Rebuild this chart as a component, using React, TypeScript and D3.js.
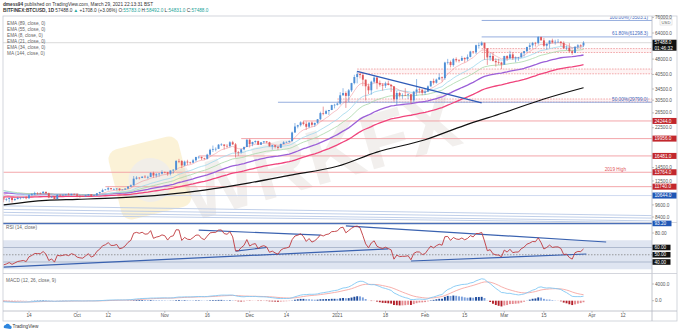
import React from "react";
import * as d3 from "d3";

const W = 680;
const H = 334;
const FONT = "'Liberation Sans', Arial, sans-serif";

// ---------- data (daily BTCUSD, Bitfinex) ----------
const START = "2020-09-05";
const FIRST_OPEN = 10470;
const closes = [
  10170,10250,10370,10130,10240,10360,10400,10440,10330,10680,10790,10950,10940,10930,11090,10920,10420,10530,10240,10740,10690,10730,10775,10710,10840,10780,
  10620,10570,10550,10670,10790,10600,10670,10920,11060,11300,11380,11550,11430,11430,11500,11320,11370,11500,11750,11920,12820,12970,12930,13110,13030,13070,13650,13280,13460,13560,13800,
  13760,13550,14030,14150,15590,15580,14840,15480,15330,15300,15700,16280,16320,16070,15970,16720,17650,17800,17820,18660,18700,18420,18370,19160,18730,17150,17140,17720,18180,19700,
  18760,19220,19420,18650,19150,19360,19170,18320,18550,18250,18030,18800,19140,19250,19440,21350,22800,23130,23860,23480,22740,23820,23240,23730,24710,26440,26250,27030,27360,28890,28980,
  29380,32190,32990,31970,33990,36820,39370,40670,40250,38240,35540,34010,37390,39150,36830,36180,35790,36630,36070,35540,30820,33000,32080,32260,32250,32510,30430,33470,34320,34270,33110,
  33520,35510,37670,36960,38310,39250,38900,46200,46480,44920,47960,47350,47180,48580,47910,49160,52150,51680,55920,55920,57490,54090,48890,49680,47060,46340,46190,45140,
  49630,48380,50540,48440,48880,48880,51210,52380,54880,55850,57330,57220,61190,59000,55600,56900,58910,57670,58090,58100,57350,54080,54340,52300,51290,55030,55840,55780,57488,
];
const highs = [
  10580,10350,10400,10440,10350,10500,10420,10480,10580,10800,10940,11100,11040,11030,11180,11100,10990,10570,10550,10780,10760,10780,10800,10950,10860,10870,
  10920,10610,10600,10690,10800,10800,10690,10940,11100,11480,11430,11720,11560,11560,11550,11540,11400,11520,11820,12030,13200,13180,13020,13160,13340,13240,13790,13850,13640,13660,14080,
  13890,13820,14070,14250,15760,15960,15750,15650,15800,15460,15950,16340,16480,16330,16150,16880,17850,18480,18120,18800,18960,18700,18770,19400,19470,19000,17420,17850,18300,19860,
  19920,19300,19560,19520,19180,19420,19400,19280,18640,18580,18250,18920,19400,19330,19570,21560,23700,23270,24150,24280,24100,23840,24100,23790,24760,26860,28400,27400,27370,28990,29300,
  29600,33300,34800,33600,34500,36940,40360,41950,41350,41400,38300,36600,37800,40100,39700,37900,36800,37400,37850,36400,35600,33800,33500,32900,34800,32900,32560,33800,38500,34900,34300,
  34700,35900,37800,38700,38700,40900,39600,46600,48100,47200,48600,48900,48000,49700,49000,50500,52600,52500,56300,57500,58350,57500,54200,51300,51900,48400,48200,46600,
  49800,50100,52600,51800,49400,49200,51400,52400,54900,57300,58000,58000,61780,61600,60600,56900,58900,60100,59400,59900,58600,58400,55800,57200,53200,55100,56600,56500,58492,
];
const lows = [
  9880,10000,9880,9850,10020,10200,10200,10300,10210,10270,10640,10680,10760,10820,10890,10810,10330,10370,10150,10200,10580,10650,10630,10660,10650,10700,
  10450,10390,10510,10520,10630,10540,10580,10620,10830,11050,11280,11250,11300,11300,11280,11220,11300,11350,11420,11690,11900,12690,12730,12900,12900,12790,13060,12950,12990,13130,13430,
  13600,13240,13300,13560,14100,15220,14400,14700,14900,15100,15250,15450,15960,15750,15800,15870,16560,17200,17340,17780,18400,17700,18030,18050,18600,16200,16500,16900,17540,18180,
  18100,18340,18930,18580,18600,18870,18930,18280,17650,17920,17600,18020,18750,18980,19060,19270,21240,22350,22780,23100,22000,22360,22720,22700,23450,24500,25800,26100,25900,27320,27850,
  28750,29000,32000,28000,29900,33400,36300,36700,38800,35600,30400,32600,32400,36700,34400,35400,33900,34900,35900,33400,30070,28850,31400,31000,31950,30900,29300,30000,31950,32900,32200,
  32300,33400,35400,36200,36600,38100,37400,38100,45200,43800,44100,46300,46200,47000,46200,47000,48900,50900,50700,53900,55500,47600,45000,47100,46700,44200,45100,43000,
  45100,47100,48100,47500,46300,47100,48900,49300,51900,53100,54300,55100,56300,59000,54600,53300,54200,57100,56300,57800,55500,53700,53100,51700,50300,51300,53900,54600,54831,
];

// moving averages
const emaPeriods = [8, 21, 34, 55, 89];
const emaSeeds = [11000, 11350, 11300, 11000, 10500];
const ma144Dates = ["2020-09-05","2020-09-20","2020-10-01","2020-10-15","2020-11-01","2020-11-15","2020-12-01","2020-12-15","2021-01-01","2021-01-15","2021-02-01","2021-02-15","2021-03-01","2021-03-15","2021-03-29"];
const ma144Values = [9600,10100,10210,10370,10750,11310,12250,13300,14700,17200,19700,23100,26600,30900,35000];

// oscillators (seeds at chart start)
const rsiSeed = [120, 190];
const macdSeed = [11200, 11380, -20];

// axes
const priceTicks = [76000, 64000, 48000, 40500, 34500, 30500, 26500, 22500, 14500, 12500, 9600, 8400];
const timeTickDates = ["2020-09-14","2020-10-01","2020-10-12","2020-11-01","2020-11-16","2020-12-01","2020-12-14","2021-01-01","2021-01-18","2021-02-01","2021-02-15","2021-03-01","2021-03-15","2021-04-01","2021-04-12"];
const timeTickLabels = ["14","Oct","12","Nov","16","Dec","14","2021","18","Feb","15","Mar","15","Apr","12"];
const rsiTicks = [80];
const rsiBoxTicks = [60, 50, 40];
const macdTicks = [4000, 0];

// drawings
const levelValues = [24244, 19956, 16481, 13764, 11740];
const levelStarts = ["2020-12-20", "2020-11-28", "2020-11-13", "2020-09-05", "2020-10-11"];
const supportValue = 10644;
const zoneLows = [51600, 40800, 29880];
const zoneHighs = [53900, 43000, 30890];
const zoneStarts = ["2021-02-21", "2021-01-08", "2021-01-01"];
const fibValues = [73503.1, 61298.3, 29799.0];
const fibLabels = ["100.00%(73503.1)", "61.80%(61298.3)", "50.00%(29799.0)"];
const fibStarts = ["2021-02-21", "2021-02-21", "2020-12-11"];
const trendDates = ["2021-01-08", "2021-02-21"];
const trendValues = [41950, 29560];
const channelDates = ["2020-09-05", "2021-04-22"];
const channelStartValues = [9500, 9130, 8840, 8580];
const channelEndValues = [8530, 8300, 8050, 7900];
const rsiLineStarts = [["2020-09-05", 33], ["2020-11-26", 55], ["2020-11-13", 84], ["2021-01-04", 89.7], ["2021-01-27", 41.4]];
const rsiLineEnds = [["2021-01-19", 58], ["2020-12-07", 60], ["2020-12-26", 77], ["2021-04-06", 67.6], ["2021-03-30", 51]];
const rsiTopLevel = 93.2;

const LEGEND = ["EMA (89, close, 0)", "EMA (55, close, 0)", "EMA (8, close, 0)", "EMA (21, close, 0)", "EMA (34, close, 0)", "MA (144, close, 0)"];

export default function App() {
  const parse = d3.utcParse("%Y-%m-%d");
  const P = (s: string) => parse(s) as Date;
  const t0 = P(START);
  const dates = closes.map((_, i) => d3.utcDay.offset(t0, i));
  const opens = closes.map((_, i) => (i === 0 ? FIRST_OPEN : closes[i - 1]));

  const L = 3, R = 652, RE = 677;
  const mainTop = 16, mainBot = 222.5, rsiBot = 273.5, macdBot = 311;

  const x = d3.scaleUtc().domain([P("2020-09-14"), P("2021-04-01")]).range([29, 592]);
  const y = d3.scaleLog().domain([8400, 64000]).range([217, 33]);
  const yR = d3.scaleLinear().domain([40, 80]).range([262, 233]);
  const yM = d3.scaleLinear().domain([0, 4000]).range([300.7, 284]);

  const emas = emaPeriods.map((p, k) => {
    const a = 2 / (p + 1);
    let e = emaSeeds[k];
    return closes.map((c) => (e = e + a * (c - e)));
  });
  let ag = rsiSeed[0], al = rsiSeed[1];
  const rsi = closes.map((c, i) => {
    const ch = c - opens[i];
    ag = (ag * 13 + Math.max(ch, 0)) / 14;
    al = (al * 13 + Math.max(-ch, 0)) / 14;
    return 100 - 100 / (1 + ag / al);
  });
  let e12 = macdSeed[0], e26 = macdSeed[1], sig = macdSeed[2];
  const macd: number[] = [], signal: number[] = [], hist: number[] = [];
  closes.forEach((c) => {
    e12 += (2 / 13) * (c - e12);
    e26 += (2 / 27) * (c - e26);
    const m = e12 - e26;
    sig += (2 / 10) * (m - sig);
    macd.push(m); signal.push(sig); hist.push(m - sig);
  });

  const lineP = d3.line<number>().x((_, i) => x(dates[i])).y((v) => y(v));
  const maLine = d3.line<number>().x((_, i) => x(P(ma144Dates[i]))).y((v) => y(v)).curve(d3.curveMonotoneX);
  const rsiLine = d3.line<number>().x((_, i) => x(dates[i])).y((v) => yR(v));
  const macdLine = d3.line<number>().x((_, i) => x(dates[i])).y((v) => yM(v));

  const emaColors = ["rgba(236,120,130,0.55)", "#9fd8ec", "#a8d8a8", "#9b5fd8", "#f0447c"];
  const emaWidths = [0.8, 0.8, 0.8, 1.3, 1.3];
  const upC = "#4f8fd6", dnC = "#e0575b";
  const bw = 1.9;
  const fs = 4.7;
  const red = "#f29ca0";
  const redBox = "#c2272d";

  const histColor = (i: number) => {
    const h = hist[i], p = i > 0 ? hist[i - 1] : 0;
    if (h >= 0) return h >= p ? "#1c4a9c" : "#7a9fdc";
    return h < p ? "#b3202a" : "#e58b90";
  };

  return (
    <svg width={W} height={H} style={{ display: "block", position: "absolute", left: 0, top: 0 }} fontFamily={FONT}>
      <defs>
        <clipPath id="cMain"><rect x={L} y={mainTop} width={R - L} height={mainBot - mainTop} /></clipPath>
        <clipPath id="cRsi"><rect x={L} y={mainBot} width={R - L} height={rsiBot - mainBot} /></clipPath>
        <clipPath id="cMacd"><rect x={L} y={rsiBot} width={R - L} height={macdBot - rsiBot} /></clipPath>
      </defs>
      <rect x={0} y={0} width={W} height={H} fill="#fff" />

      {/* header */}
      <text x={3} y={6} fontSize={fs} fill="#333">
        <tspan fontWeight="bold">dmess94</tspan> published on TradingView.com, March 29, 2021 22:13:31 BST
      </text>
      <text x={3} y={12.3} fontSize={fs} fill="#333">
        <tspan fontWeight="bold">BITFINEX:BTCUSD, 1D</tspan> 57488.0 <tspan fill="#26a69a">▲</tspan> +1708.0 (+3.06%) O:<tspan fill="#26a69a">55783.0</tspan> H:<tspan fill="#26a69a">58492.0</tspan> L:<tspan fill="#26a69a">54831.0</tspan> C:<tspan fill="#26a69a">57488.0</tspan>
      </text>

      {/* ===== main pane ===== */}
      <g clipPath="url(#cMain)">
        {/* watermark */}
        <g transform="translate(150,178) rotate(-14)" opacity={0.5}>
          <rect x={-36} y={-36} width={72} height={72} rx={10} fill="#f8e6b0" />
          <circle cx={0} cy={2} r={22} fill="#e3ddd2" />
        </g>
        <text x={0} y={0} transform="translate(190,222) rotate(-16)" fontSize={78} fontWeight="bold" fill="#d9d2cc" opacity={0.35}>WRKFX</text>

        {/* channel lines */}
        {channelStartValues.map((v, k) => (
          <line key={"ch" + k} x1={x(P(channelDates[0]))} y1={y(v)} x2={x(P(channelDates[1]))} y2={y(channelEndValues[k])} stroke="#b9c9e6" strokeWidth={0.9} />
        ))}
        <line x1={L} x2={R} y1={y(supportValue)} y2={y(supportValue)} stroke="#c4d2ec" strokeWidth={0.8} />

        {/* levels */}
        {levelValues.map((v, k) => (
          <line key={"lv" + k} x1={x(P(levelStarts[k]))} x2={R} y1={y(v)} y2={y(v)} stroke={red} strokeWidth={0.9} />
        ))}
        <text x={626} y={y(13764) - 1.5} fontSize={fs} fill="#e0575b" textAnchor="end">2019 High</text>

        {/* zones */}
        {zoneLows.map((v, k) => (
          <g key={"z" + k}>
            <rect x={x(P(zoneStarts[k]))} y={y(zoneHighs[k])} width={R - x(P(zoneStarts[k]))} height={y(v) - y(zoneHighs[k])} fill="rgba(242,80,90,0.07)" />
            <line x1={x(P(zoneStarts[k]))} x2={R} y1={y(zoneHighs[k])} y2={y(zoneHighs[k])} stroke="#f0a0a4" strokeWidth={0.9} strokeDasharray="1.6,1.2" />
            <line x1={x(P(zoneStarts[k]))} x2={R} y1={y(v)} y2={y(v)} stroke="#f0a0a4" strokeWidth={0.9} strokeDasharray="1.6,1.2" />
          </g>
        ))}

        {/* fib */}
        {fibValues.map((v, k) => (
          <g key={"f" + k}>
            <line x1={x(P(fibStarts[k]))} x2={R} y1={y(v)} y2={y(v)} stroke="#8aa5da" strokeWidth={0.9} />
            <text x={648} y={y(v) - 1.6} fontSize={fs} fill="#4169c0" textAnchor="end">{fibLabels[k]}</text>
          </g>
        ))}

        {/* current price line */}
        <line x1={L} x2={R} y1={y(57488)} y2={y(57488)} stroke="#c8c8c8" strokeWidth={0.7} />

        {/* MAs */}
        <path d={maLine(ma144Values) || ""} fill="none" stroke="#111" strokeWidth={1.2} />
        {[4, 3, 2, 1, 0].map((k) => (
          <path key={"e" + k} d={lineP(emas[k]) || ""} fill="none" stroke={emaColors[k]} strokeWidth={emaWidths[k]} />
        ))}

        {/* candles */}
        {closes.map((c, i) => {
          const o = opens[i];
          const hi = Math.max(highs[i], o, c), lo = Math.min(lows[i], o, c);
          const cx = x(dates[i]);
          const col = c >= o ? upC : dnC;
          const top = y(Math.max(o, c)), bot = y(Math.min(o, c));
          return (
            <g key={"c" + i}>
              <line x1={cx} x2={cx} y1={y(hi)} y2={y(lo)} stroke={col} strokeWidth={0.6} />
              <rect x={cx - bw / 2} y={top} width={bw} height={Math.max(bot - top, 0.6)} fill={col} />
            </g>
          );
        })}

        {/* trendline */}
        <line x1={x(P(trendDates[0]))} y1={y(trendValues[0])} x2={x(P(trendDates[1]))} y2={y(trendValues[1])} stroke="#2f5bb7" strokeWidth={1.3} />
      </g>

      {/* legend */}
      {LEGEND.map((t, k) => (
        <text key={"lg" + k} x={7} y={24.5 + k * 6} fontSize={fs} fill="#666">{t}</text>
      ))}

      {/* ===== RSI pane ===== */}
      <g clipPath="url(#cRsi)">
        <rect x={L} y={yR(70)} width={R - L} height={yR(30) - yR(70)} fill="#dfe5f1" />
        <line x1={L} x2={R} y1={yR(60)} y2={yR(60)} stroke="#9aa6bf" strokeWidth={0.7} />
        <line x1={L} x2={R} y1={yR(40)} y2={yR(40)} stroke="#9aa6bf" strokeWidth={0.7} />
        <line x1={L} x2={R} y1={yR(50)} y2={yR(50)} stroke="#777" strokeWidth={0.7} strokeDasharray="1.5,1.5" />
        <line x1={L} x2={R} y1={yR(rsiTopLevel)} y2={yR(rsiTopLevel)} stroke="#4a6fb8" strokeWidth={1.4} />
        {rsiLineStarts.map((s, k) => (
          <line key={"rl" + k} x1={x(P(s[0] as string))} y1={yR(s[1] as number)} x2={x(P(rsiLineEnds[k][0] as string))} y2={yR(rsiLineEnds[k][1] as number)} stroke="#3a62b0" strokeWidth={1.2} />
        ))}
        <path d={rsiLine(rsi) || ""} fill="none" stroke="#c0393d" strokeWidth={0.9} />
      </g>
      <text x={6} y={228.5} fontSize={fs} fill="#666">RSI (14, close)</text>

      {/* ===== MACD pane ===== */}
      <g clipPath="url(#cMacd)">
        {hist.map((h, i) => (
          <rect key={"h" + i} x={x(dates[i]) - bw / 2} y={Math.min(yM(0), yM(h))} width={bw} height={Math.abs(yM(h) - yM(0))} fill={histColor(i)} />
        ))}
        <path d={macdLine(signal) || ""} fill="none" stroke="#f6a7a3" strokeWidth={0.9} />
        <path d={macdLine(macd) || ""} fill="none" stroke="#82c8f4" strokeWidth={0.9} />
      </g>
      <text x={6} y={281.5} fontSize={fs} fill="#666">MACD (12, 26, close, 9)</text>

      {/* frames */}
      <rect x={L} y={mainTop} width={RE - L} height={321 - mainTop} fill="none" stroke="#c9ccd4" strokeWidth={0.8} />
      <line x1={R} x2={R} y1={mainTop} y2={321} stroke="#b4b8c2" strokeWidth={0.8} />
      <line x1={L} x2={RE} y1={mainBot} y2={mainBot} stroke="#c9ccd4" strokeWidth={0.8} />
      <line x1={L} x2={RE} y1={rsiBot} y2={rsiBot} stroke="#c9ccd4" strokeWidth={0.8} />
      <line x1={L} x2={RE} y1={macdBot} y2={macdBot} stroke="#b4b8c2" strokeWidth={0.8} />

      {/* price axis */}
      <g>
        {priceTicks.map((v) => (
          <g key={"pt" + v}>
            <line x1={R} x2={R + 2} y1={y(v)} y2={y(v)} stroke="#999" strokeWidth={0.6} />
            <text x={655} y={y(v) + 1.6} fontSize={fs} fill="#555">{v.toFixed(1)}</text>
          </g>
        ))}
        <rect x={660} y={19.5} width={12} height={5.5} fill="#fff" stroke="#ccc" strokeWidth={0.5} />
        <text x={666} y={23.8} fontSize={4.2} fill="#555" textAnchor="middle">USD</text>
        {levelValues.map((v) => (
          <g key={"lb" + v}>
            <rect x={R + 0.5} y={y(v) - 3} width={24} height={6} fill={redBox} />
            <text x={654.5} y={y(v) + 1.7} fontSize={fs} fill="#fff">{v.toFixed(1)}</text>
          </g>
        ))}
        <rect x={R + 0.5} y={y(supportValue) - 3} width={24} height={6} fill="#1f56b5" />
        <text x={654.5} y={y(supportValue) + 1.7} fontSize={fs} fill="#fff">{supportValue.toFixed(1)}</text>
        <rect x={R + 0.5} y={y(57488) - 3} width={24} height={11} fill="#111" />
        <text x={654.5} y={y(57488) + 1.7} fontSize={fs} fill="#fff">57488.0</text>
        <text x={654.5} y={y(57488) + 7} fontSize={fs} fill="#fff">01:46:32</text>

        {/* rsi axis */}
        <rect x={R + 0.5} y={yR(rsiTopLevel) - 2.8} width={19} height={5.6} fill="#1f56b5" />
        <text x={654.5} y={yR(rsiTopLevel) + 1.6} fontSize={fs} fill="#fff">{rsiTopLevel.toFixed(2)}</text>
        {rsiTicks.map((v) => (
          <g key={"rt" + v}>
            <line x1={R} x2={R + 2} y1={yR(v)} y2={yR(v)} stroke="#999" strokeWidth={0.6} />
            <text x={655} y={yR(v) + 1.6} fontSize={fs} fill="#555">{v.toFixed(2)}</text>
          </g>
        ))}
        {rsiBoxTicks.map((v) => (
          <g key={"rb" + v}>
            <rect x={R + 0.5} y={yR(v) - 2.8} width={18} height={5.6} fill="#111" />
            <text x={654.5} y={yR(v) + 1.6} fontSize={fs} fill="#fff">{v.toFixed(2)}</text>
          </g>
        ))}
        {macdTicks.map((v) => (
          <g key={"mt" + v}>
            <line x1={R} x2={R + 2} y1={yM(v)} y2={yM(v)} stroke="#999" strokeWidth={0.6} />
            <text x={655} y={yM(v) + 1.6} fontSize={fs} fill="#555">{v.toFixed(1)}</text>
          </g>
        ))}
      </g>

      {/* time axis */}
      {timeTickDates.map((d, k) => (
        <g key={"tt" + k}>
          <line x1={x(P(d))} x2={x(P(d))} y1={macdBot} y2={macdBot + 1.8} stroke="#999" strokeWidth={0.6} />
          <text x={x(P(d))} y={317.3} fontSize={fs} fill="#555" textAnchor="middle">{timeTickLabels[k]}</text>
        </g>
      ))}

      {/* footer logo */}
      <g transform="translate(3,323)">
        <path d="M1,5 a2,2 0 0 1 1.5,-3 a2.5,2.5 0 0 1 4.5,0.5 a1.8,1.8 0 0 1 0.5,3.5 z" fill="#2e86de" />
      </g>
      <text x={12.5} y={327.8} fontSize={fs} fill="#333">TradingView</text>
    </svg>
  );
}
